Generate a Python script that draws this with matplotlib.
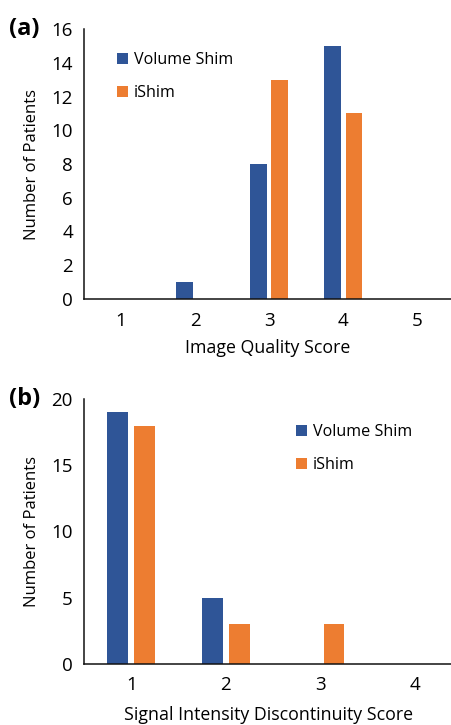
import numpy as np
import matplotlib
matplotlib.use("Agg")
import matplotlib.pyplot as plt

plt.rcParams['font.family'] = ['Open Sans', 'DejaVu Sans']

# panel (a) data
quality_scores = [1, 2, 3, 4, 5]
quality_volume = [0, 1, 8, 15, 0]
quality_ishim = [0, 0, 13, 11, 0]

# panel (b) data
sid_scores = [1, 2, 3, 4]
sid_volume = [19, 5, 0, 0]
sid_ishim = [18, 3, 3, 0]

series_names = ["Volume Shim", "iShim"]
BLUE = "#2F5597"
ORANGE = "#ED7D31"

W, H = 452, 725
fig = plt.figure(figsize=(W / 100, H / 100), dpi=100)


def px_axes(left, top, right, bottom):
    return fig.add_axes([left / W, 1 - bottom / H, (right - left) / W, (bottom - top) / H])


def draw_panel(ax, cats, v1, v2, ylim, yticks, xlim, xlabel, tag, leg_xy, xlabelpad):
    x = np.array(cats, dtype=float)
    bw = 0.22
    off = 0.142
    ax.bar(x - off, v1, width=bw, color=BLUE, label=series_names[0])
    ax.bar(x + off, v2, width=bw, color=ORANGE, label=series_names[1])
    ax.set_xlim(*xlim)
    ax.set_ylim(*ylim)
    ax.set_yticks(yticks)
    ax.set_xticks(cats)
    ax.tick_params(length=0, labelsize=13.5, pad=8)
    ax.tick_params(axis='x', pad=9)
    for s in ['top', 'right']:
        ax.spines[s].set_visible(False)
    for s in ['left', 'bottom']:
        ax.spines[s].set_linewidth(1.1)
        ax.spines[s].set_color('#111111')
    ax.set_ylabel("Number of Patients", fontsize=12, labelpad=8)
    ax.set_xlabel(xlabel, fontsize=12.8, labelpad=xlabelpad)
    ax.text(-0.205, 1.0, tag, transform=ax.transAxes, fontsize=17,
            fontweight='bold', ha='left', va='center')
    ax.legend(loc='upper left', bbox_to_anchor=(leg_xy[0] / W, 1 - leg_xy[1] / H),
              bbox_transform=fig.transFigure, frameon=False, fontsize=11.6,
              handlelength=0.7, handleheight=0.7, handletextpad=0.35,
              labelspacing=1.05, borderpad=0, borderaxespad=0)


ax1 = px_axes(84, 29, 452, 299)
draw_panel(ax1, quality_scores, quality_volume, quality_ishim, (0, 16),
           range(0, 17, 2), (0.5, 5.47), "Image Quality Score", "(a)", (117, 52), 7)

ax2 = px_axes(84, 399, 452, 664)
draw_panel(ax2, sid_scores, sid_volume, sid_ishim, (0, 20),
           range(0, 21, 5), (0.5, 4.39), "Signal Intensity Discontinuity Score", "(b)", (296, 424), 8)

fig.savefig("out.png", dpi=100)
